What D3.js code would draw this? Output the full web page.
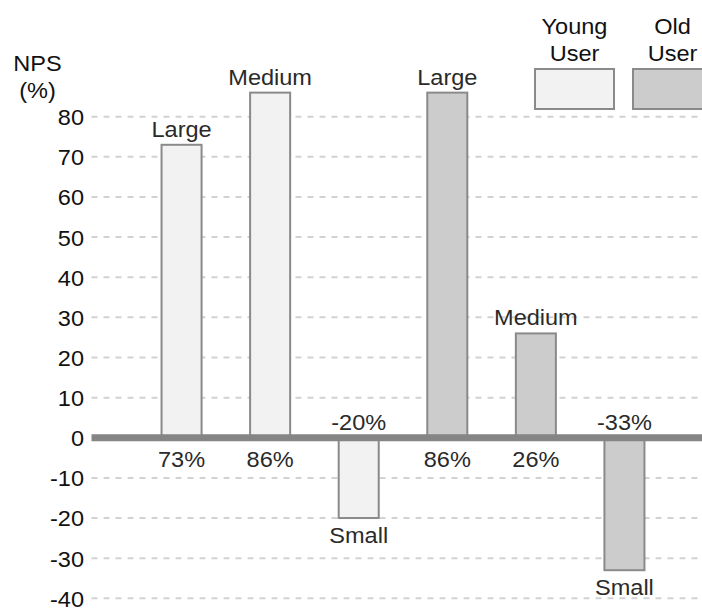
<!DOCTYPE html>
<html>
<head>
<meta charset="utf-8">
<script src="https://cdn.jsdelivr.net/npm/d3@7/dist/d3.min.js"></script>
<style>
  html, body { margin: 0; padding: 0; background: #fff; }
  svg { display: block; font-family: "Liberation Sans", Arial, sans-serif; }
</style>
</head>
<body>
<svg id="chart" width="702" height="608"></svg>
<script>
// NPS by user group and device size
const groups = ["Young User", "Young User", "Young User", "Old User", "Old User", "Old User"];
const sizes = ["Large", "Medium", "Small", "Large", "Medium", "Small"];
const npsValues = [73, 86, -20, 86, 26, -33];
const yTicks = [-40, -30, -20, -10, 0, 10, 20, 30, 40, 50, 60, 70, 80];
const legendGroups = ["Young User", "Old User"];

const fills = { "Young User": "#f2f2f2", "Old User": "#cccccc" };
const strokeCol = "#8a8a8a";
const FS = 22;      // font size
const SX = 1.07;    // slightly widened lettering

const svg = d3.select("#chart");
const W = 702;

const y = d3.scaleLinear().domain([-40, 80]).range([598.3, 116.7]);
const ids = d3.range(npsValues.length);
const x = d3.scaleBand().domain(ids).range([113, 693]).padding(0.548);
const cx = i => x(i) + x.bandwidth() / 2;

const left = 91.5;

// places a text element at (px, py) with the widened lettering
function at(px, py) { return `translate(${px},${py}) scale(${SX},1)`; }

// dashed gridlines
svg.append("g")
  .selectAll("line")
  .data(yTicks.filter(d => d !== 0))
  .join("line")
  .attr("x1", left).attr("x2", W)
  .attr("y1", d => y(d)).attr("y2", d => y(d))
  .attr("stroke", "#d2d2d2")
  .attr("stroke-width", 2)
  .attr("stroke-dasharray", "6,6");

// y axis labels
const yAxis = d3.axisLeft(y).tickValues(yTicks).tickFormat(d => String(d)).tickSize(0).tickPadding(0);
const ag = svg.append("g").attr("transform", "translate(84,0)").call(yAxis);
ag.select(".domain").remove();
ag.selectAll("text")
  .attr("x", 0)
  .attr("font-size", FS)
  .attr("fill", "#111")
  .attr("font-family", "Liberation Sans, Arial, sans-serif")
  .attr("dy", "0.36em")
  .attr("transform", `scale(${SX},1)`);

// axis title
const title = svg.append("g").attr("fill", "#111").attr("font-size", FS).attr("text-anchor", "middle");
title.append("text").attr("transform", at(37.5, 71)).text("NPS");
title.append("text").attr("transform", at(37.5, 98)).text("(%)");

// bars
svg.append("g")
  .selectAll("rect")
  .data(ids)
  .join("rect")
  .attr("x", i => x(i))
  .attr("width", x.bandwidth())
  .attr("y", i => Math.min(y(npsValues[i]), y(0)))
  .attr("height", i => Math.abs(y(npsValues[i]) - y(0)))
  .attr("fill", i => fills[groups[i]])
  .attr("stroke", strokeCol)
  .attr("stroke-width", 2);

// zero line
svg.append("line")
  .attr("x1", left).attr("x2", W)
  .attr("y1", y(0)).attr("y2", y(0))
  .attr("stroke", "#858585")
  .attr("stroke-width", 7);

// size labels at bar ends
svg.append("g")
  .selectAll("text")
  .data(ids)
  .join("text")
  .attr("transform", i => at(cx(i), npsValues[i] >= 0 ? y(npsValues[i]) - 8 : y(npsValues[i]) + 25))
  .attr("text-anchor", "middle")
  .attr("font-size", FS)
  .attr("fill", "#2a2a2a")
  .text(i => sizes[i]);

// value labels next to the zero line
svg.append("g")
  .selectAll("text")
  .data(ids)
  .join("text")
  .attr("transform", i => at(cx(i), npsValues[i] >= 0 ? y(0) + 29 : y(0) - 8))
  .attr("text-anchor", "middle")
  .attr("font-size", FS)
  .attr("fill", "#2a2a2a")
  .text(i => npsValues[i] + "%");

// legend
const lx = d3.scalePoint().domain(legendGroups).range([574.5, 672.5]);
const lg = svg.append("g").selectAll("g").data(legendGroups).join("g");
lg.append("rect")
  .attr("x", d => lx(d) - 39.5)
  .attr("y", 69)
  .attr("width", 79)
  .attr("height", 40)
  .attr("fill", d => fills[d])
  .attr("stroke", strokeCol)
  .attr("stroke-width", 2);
lg.append("text")
  .attr("transform", d => at(lx(d), 34))
  .attr("text-anchor", "middle")
  .attr("font-size", FS)
  .attr("fill", "#111")
  .text(d => d.split(" ")[0]);
lg.append("text")
  .attr("transform", d => at(lx(d), 61))
  .attr("text-anchor", "middle")
  .attr("font-size", FS)
  .attr("fill", "#111")
  .text(d => d.split(" ")[1]);
</script>
</body>
</html>
